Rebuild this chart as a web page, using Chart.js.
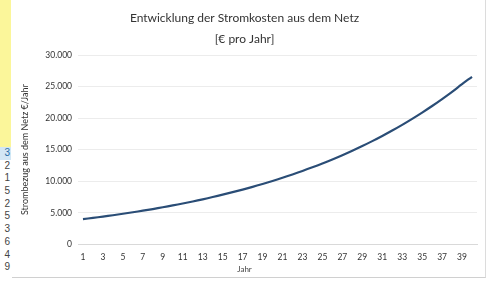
<!DOCTYPE html>
<html>
<head>
<meta charset="utf-8">
<script src="https://cdn.jsdelivr.net/npm/chart.js@4"></script>
<style>
  html, body { margin: 0; padding: 0; background: #fff; }
  body { width: 489px; height: 281px; position: relative; overflow: hidden; font-family: Lato, sans-serif; }
  #strip { position: absolute; left: 0; top: 0; width: 11px; height: 147px; background: #fbf69a; }
  #cells { position: absolute; left: 0; top: 147px; width: 11px; height: 130px; overflow: hidden;
           font: 10px "Liberation Sans", Arial, sans-serif; color: #444; text-align: right; }
  #cells div { height: 12.7px; line-height: 12.7px; padding-right: 1px; }
  #cells div.sel { background: #d3e7f5; color: #2a6ea8; }
  #frame { position: absolute; left: 12px; top: 0; width: 473px; height: 277px;
           border-right: 1px solid #dcdcdc; border-bottom: 1px solid #d0d0d0; }
  #wrap { position: absolute; left: 0; top: 0; width: 472px; height: 277px; }
</style>
</head>
<body>
<div id="strip"></div>
<div id="cells"></div>
<div id="frame"><div id="wrap"><canvas id="c"></canvas></div></div>
<script>
// data
const years = Array.from({ length: 40 }, (_, i) => String(i + 1));
const kosten = [
  4000, 4200, 4400, 4620, 4850, 5090, 5340, 5600, 5880, 6170,
  6480, 6800, 7140, 7500, 7880, 8270, 8680, 9110, 9570, 10050,
  10550, 11080, 11630, 12210, 12820, 13460, 14130, 14840, 15580, 16360,
  17180, 18040, 18940, 19890, 20880, 21920, 23020, 24170, 25380, 26550
];
const yTicks = [0, 5000, 10000, 15000, 20000, 25000, 30000];
const sideDigits = ['3', '2', '1', '5', '2', '5', '3', '6', '4', '9'];

const cells = document.getElementById('cells');
sideDigits.forEach((d, i) => {
  const el = document.createElement('div');
  el.textContent = d;
  if (i === 0) el.className = 'sel';
  cells.appendChild(el);
});

function fmt(v) {
  return String(v).replace(/\B(?=(\d{3})+(?!\d))/g, '.');
}

new Chart(document.getElementById('c'), {
  type: 'line',
  data: {
    labels: years,
    datasets: [{
      data: kosten,
      borderColor: '#2a4d76',
      borderWidth: 2.2,
      pointRadius: 0,
      tension: 0.4,
      fill: false,
    }],
  },
  options: {
    responsive: true,
    maintainAspectRatio: false,
    animation: false,
    layout: { padding: { left: 0, right: 7, top: 0, bottom: 0 } },
    plugins: {
      legend: { display: false },
      tooltip: { enabled: false },
      title: {
        display: true,
        text: ['Entwicklung der Stromkosten aus dem Netz', '[€ pro Jahr]'],
        color: '#333',
        font: { family: 'Lato', size: 12, weight: 'normal', lineHeight: 1.75 },
        padding: { top: 7.5, bottom: 5.5 },
      },
      subtitle: {
        display: true,
        position: 'bottom',
        text: 'Jahr',
        color: '#444',
        font: { family: 'Lato', size: 8, lineHeight: 1.2 },
        padding: { top: 0, bottom: 3 },
      },
    },
    scales: {
      x: {
        offset: true,
        grid: { display: false, drawTicks: false },
        border: { display: true, color: '#d9d9d9' },
        afterFit: (scale) => { scale.height = 20; },
        ticks: {
          autoSkip: false,
          maxRotation: 0,
          padding: 8,
          color: '#333',
          font: { family: 'Lato', size: 8.5 },
          callback: function (v, i) { return i % 2 === 0 ? this.getLabelForValue(v) : ''; },
        },
      },
      y: {
        min: 0,
        max: 30000,
        afterBuildTicks: (scale) => { scale.ticks = yTicks.map(v => ({ value: v })); },
        afterFit: (scale) => { scale.width = 66; },
        grid: { color: '#ececec', drawTicks: false },
        border: { display: false },
        ticks: {
          padding: 6,
          color: '#333',
          font: { family: 'Lato', size: 8.5 },
          callback: (v) => fmt(v),
        },
        title: {
          display: true,
          text: 'Strombezug aus dem Netz €/Jahr',
          color: '#333',
          font: { family: 'Lato', size: 9 },
          padding: { top: 8, bottom: 0 },
        },
      },
    },
  },
});
</script>
</body>
</html>
